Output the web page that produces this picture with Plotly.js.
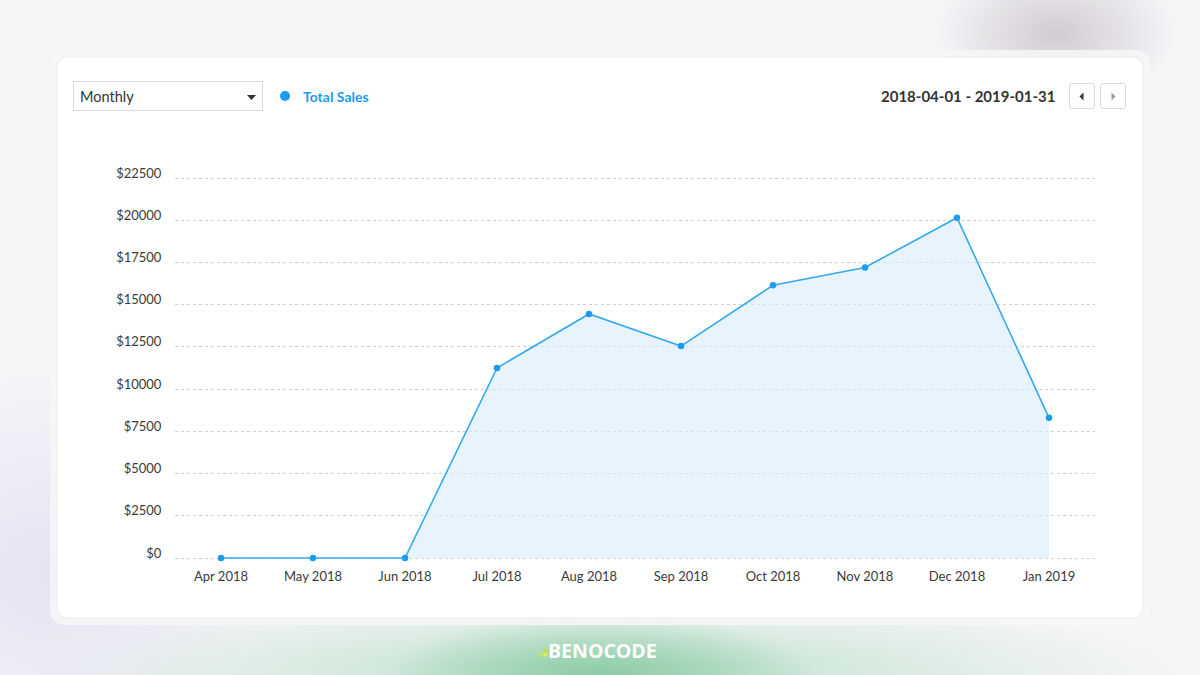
<!DOCTYPE html>
<html>
<head>
<meta charset="utf-8">
<script src="https://cdn.plot.ly/plotly-3.0.1.min.js"></script>
<style>
  html, body { margin:0; padding:0; width:1200px; height:675px; overflow:hidden; }
  body {
    background:
      radial-gradient(ellipse 18% 9% at 50% 100%, rgba(135,202,160,0.9) 0%, rgba(135,202,160,0) 100%),
      radial-gradient(ellipse 48% 12% at 50% 100%, rgba(170,218,190,0.8) 0%, rgba(200,230,212,0.5) 60%, rgba(243,242,245,0) 100%),
      radial-gradient(ellipse 10% 11% at 88% 5%, rgba(205,199,205,0.9) 0%, rgba(243,242,245,0) 100%),
      radial-gradient(ellipse 18% 30% at 4% 85%, rgba(226,222,242,0.8) 0%, rgba(243,242,245,0) 100%),
      #f5f4f7;
  }
  #chart { width:1200px; height:675px; }
</style>
</head>
<body>
<div id="chart"></div>
<script>
// ---- data ----
const months = ["Apr 2018","May 2018","Jun 2018","Jul 2018","Aug 2018","Sep 2018","Oct 2018","Nov 2018","Dec 2018","Jan 2019"];
const totalSales = [0, 0, 0, 11250, 14450, 12550, 16150, 17200, 20150, 8300];
const yTickVals = [0, 2500, 5000, 7500, 10000, 12500, 15000, 17500, 20000, 22500];
const yTickText = yTickVals.map(v => "$" + v);
const seriesName = "Total Sales";
const dateRangeText = "2018-04-01 - 2019-01-31";
const periodText = "Monthly";

// ---- geometry helpers (pixel -> paper) ----
const L = 175, R = 1095, T = 170, B = 563;
const X = px => (px - L) / (R - L);
const Y = py => (B - py) / (B - T);
function rr(x0, y0, x1, y1, r) {
  const p = (x, y) => X(x).toFixed(5) + "," + Y(y).toFixed(5);
  return "M" + p(x0 + r, y0) + " L" + p(x1 - r, y0) + " Q" + p(x1, y0) + " " + p(x1, y0 + r) +
         " L" + p(x1, y1 - r) + " Q" + p(x1, y1) + " " + p(x1 - r, y1) +
         " L" + p(x0 + r, y1) + " Q" + p(x0, y1) + " " + p(x0, y1 - r) +
         " L" + p(x0, y0 + r) + " Q" + p(x0, y0) + " " + p(x0 + r, y0) + " Z";
}
function tri(pts) {
  return "M" + pts.map(q => X(q[0]).toFixed(5) + "," + Y(q[1]).toFixed(5)).join(" L") + " Z";
}
const pxPerUnit = 42.2 / 2500;
const yMin = -(B - 558) / pxPerUnit;
const yMax = 22500 + (178 - T) / pxPerUnit;

const blue = "#1b9cf0";
const shapes = [
  // outer frame of card
  {type:"path", xref:"paper", yref:"paper", layer:"below", path: rr(50, 50, 1150, 625, 16),
   fillcolor:"rgba(246,247,247,0.85)", line:{width:0}},
  // card
  {type:"path", xref:"paper", yref:"paper", layer:"below", path: rr(57, 57, 1143, 618, 12),
   fillcolor:"#ffffff", line:{color:"#ececee", width:1}},
  // dropdown box
  {type:"rect", xref:"paper", yref:"paper", layer:"below", x0:X(73.5), x1:X(262.5), y0:Y(81.5), y1:Y(110.5),
   fillcolor:"#ffffff", line:{color:"#dcdcdc", width:1}},
  // dropdown caret
  {type:"path", xref:"paper", yref:"paper", layer:"above", path: tri([[247,95],[256,95],[251.5,100]]),
   fillcolor:"#333333", line:{width:0}},
  // legend dot
  {type:"circle", xref:"paper", yref:"paper", layer:"above", x0:X(280), x1:X(290), y0:Y(91), y1:Y(101),
   fillcolor:blue, line:{width:0}},
  // nav buttons
  {type:"path", xref:"paper", yref:"paper", layer:"below", path: rr(1069.5, 83.5, 1094.5, 108.5, 2),
   fillcolor:"#ffffff", line:{color:"#d9d9d9", width:1}},
  {type:"path", xref:"paper", yref:"paper", layer:"below", path: rr(1100.5, 83.5, 1125.5, 108.5, 2),
   fillcolor:"#ffffff", line:{color:"#d9d9d9", width:1}},
  {type:"path", xref:"paper", yref:"paper", layer:"above", path: tri([[1083.5,92.5],[1083.5,100.5],[1079.5,96.5]]),
   fillcolor:"#333333", line:{width:0}},
  {type:"path", xref:"paper", yref:"paper", layer:"above", path: tri([[1111.5,92.5],[1111.5,100.5],[1115.5,96.5]]),
   fillcolor:"#9a9a9a", line:{width:0}},
  // logo dots
  {type:"rect", xref:"paper", yref:"paper", layer:"above", x0:X(539), x1:X(542.5), y0:Y(653), y1:Y(656.5),
   fillcolor:"#c9ec3a", line:{width:0}},
  {type:"rect", xref:"paper", yref:"paper", layer:"above", x0:X(543.5), x1:X(547), y0:Y(653), y1:Y(656.5),
   fillcolor:"#d8f04a", line:{width:0}},
  {type:"rect", xref:"paper", yref:"paper", layer:"above", x0:X(543.5), x1:X(547), y0:Y(648.5), y1:Y(652),
   fillcolor:"#b8e33a", line:{width:0}}
];

const annotations = [
  {xref:"paper", yref:"paper", x:X(78), y:Y(96.5), xanchor:"left", yanchor:"middle", showarrow:false,
   text: periodText, font:{family:"Lato, 'Open Sans', sans-serif", size:14.5, color:"#333333"}},
  {xref:"paper", yref:"paper", x:X(301), y:Y(96), xanchor:"left", yanchor:"middle", showarrow:false,
   text: "<b>" + seriesName + "</b>", font:{family:"Lato, 'Open Sans', sans-serif", size:14, color:blue}},
  {xref:"paper", yref:"paper", x:X(1057), y:Y(96.5), xanchor:"right", yanchor:"middle", showarrow:false,
   text: "<b>" + dateRangeText + "</b>", font:{family:"Lato, 'Open Sans', sans-serif", size:15, color:"#333333"}},
  {xref:"paper", yref:"paper", x:X(546), y:Y(650.5), xanchor:"left", yanchor:"middle", showarrow:false,
   text: "<b>BENOCODE</b>", font:{family:"'Open Sans', 'DejaVu Sans', sans-serif", size:19.5, color:"#ffffff"}}
];

const trace = {
  type:"scatter", mode:"lines+markers", name: seriesName,
  x: months, y: totalSales,
  fill:"tozeroy", fillcolor:"rgba(215,236,252,0.6)",
  line:{color:"#35a9ee", width:1.6},
  marker:{color:blue, size:6.5},
  hoverinfo:"skip", cliponaxis:false
};

const layout = {
  width:1200, height:675,
  margin:{l:L, r:1200 - R, t:T, b:675 - B, pad:0},
  paper_bgcolor:"rgba(0,0,0,0)", plot_bgcolor:"rgba(0,0,0,0)",
  showlegend:false,
  font:{family:"Lato, 'Open Sans', sans-serif", color:"#3a3a3a"},
  xaxis:{
    type:"category", range:[-0.5, months.length - 0.5], showgrid:false, zeroline:false,
    showline:false, ticks:"", ticklabelstandoff:4,
    tickfont:{size:13, color:"#3a3a3a"}, fixedrange:true
  },
  yaxis:{
    range:[yMin, yMax], tickvals:yTickVals, ticktext:yTickText,
    showgrid:true, gridcolor:"#cfcfcf", griddash:"dot", gridwidth:1,
    zeroline:false, showline:false, ticks:"outside", ticklen:10, tickcolor:"rgba(0,0,0,0)",
    ticklabelshift:-5,
    tickfont:{size:13, color:"#3a3a3a"}, fixedrange:true
  },
  shapes: shapes,
  annotations: annotations
};

Plotly.newPlot("chart", [trace], layout, {staticPlot:true, displayModeBar:false});
</script>
</body>
</html>
